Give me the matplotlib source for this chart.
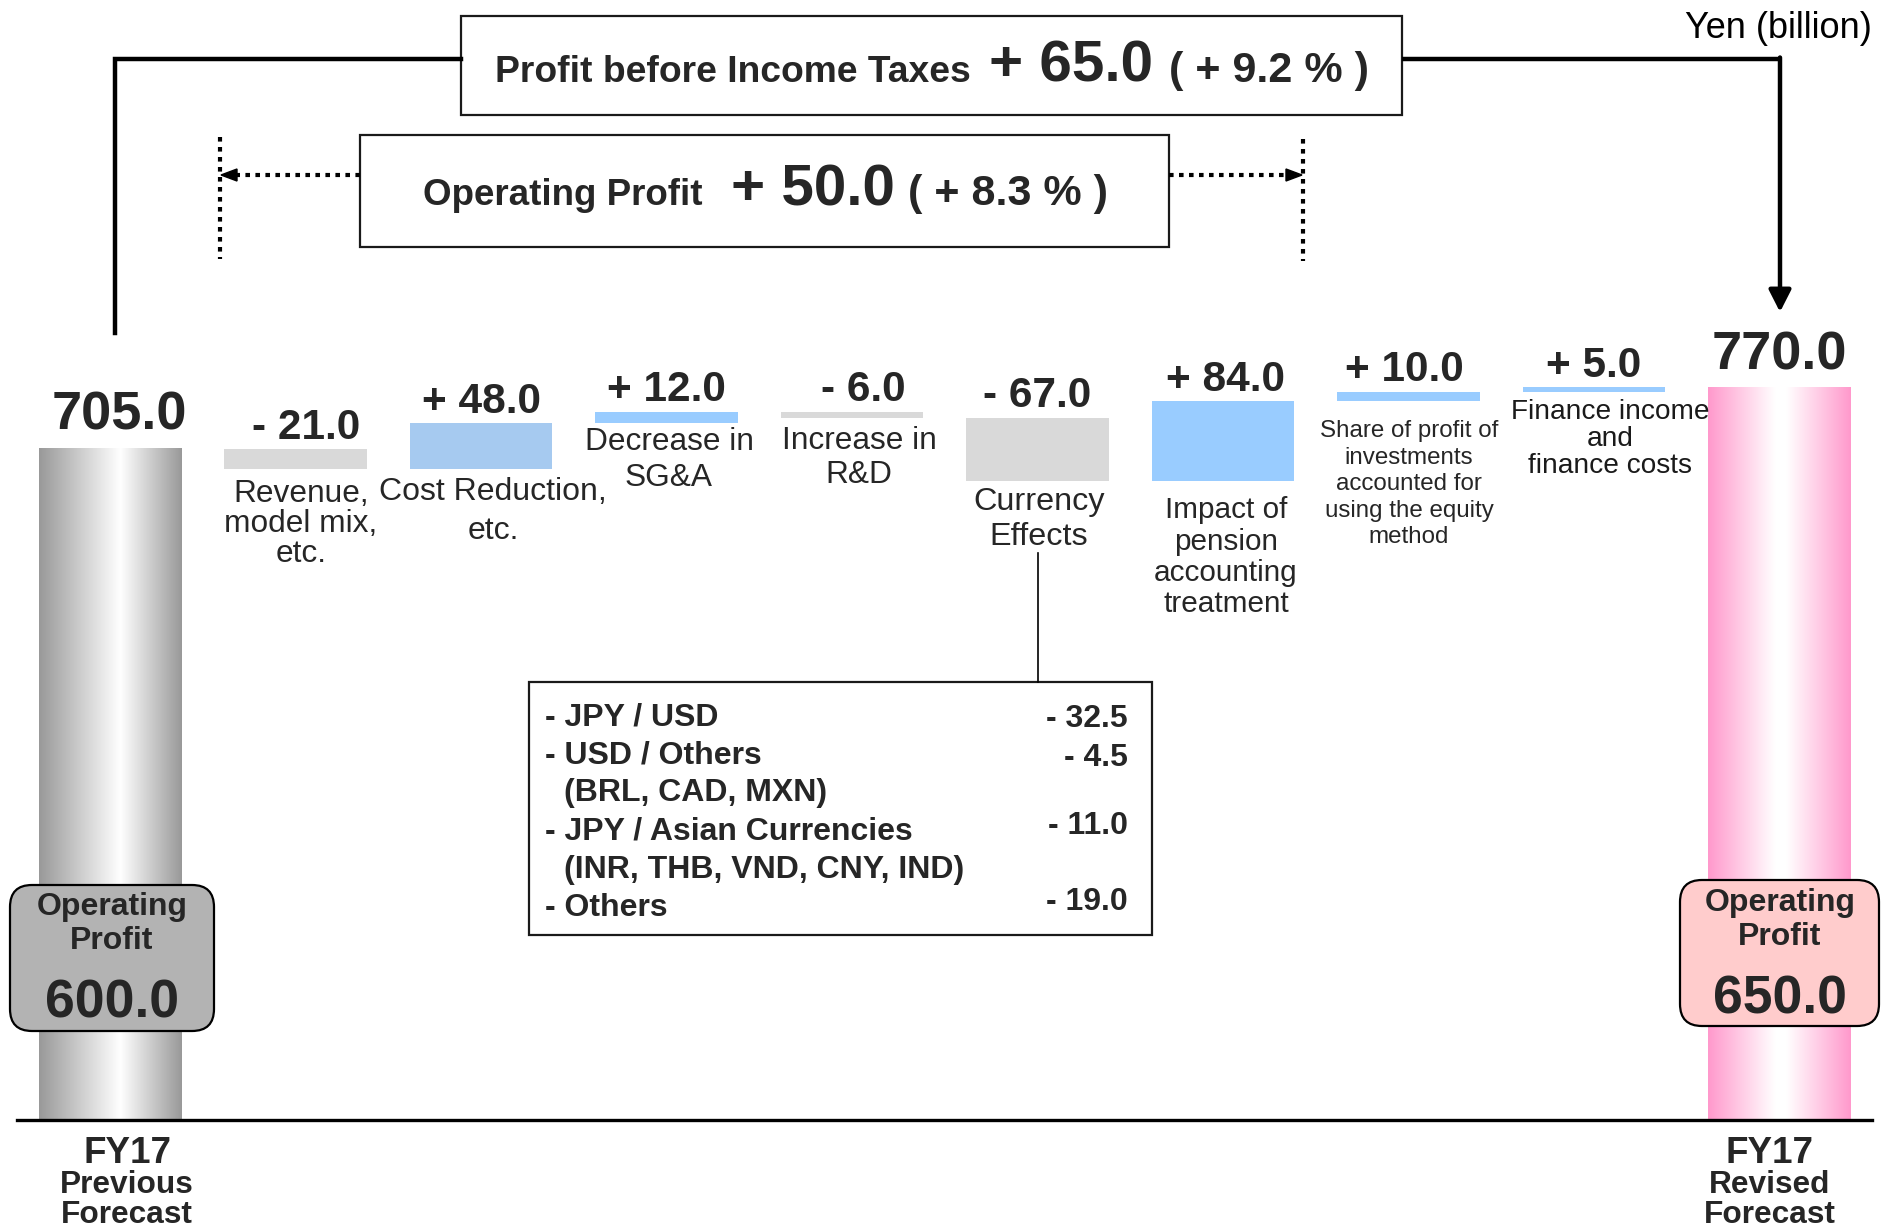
import numpy as np
import matplotlib.pyplot as plt
from matplotlib.colors import LinearSegmentedColormap
from matplotlib.patches import Rectangle, FancyBboxPatch, Polygon, FancyArrowPatch

plt.rcParams['font.family'] = ['Liberation Sans', 'DejaVu Sans']

# ---- data (Yen billion) ----
start_value = 705.0
end_value = 770.0
op_start = 600.0
op_end = 650.0
deltas = [-21.0, 48.0, 12.0, -6.0, -67.0, 84.0, 10.0, 5.0]
categories = ['Revenue,\nmodel mix,\netc.',
              'Cost Reduction,\netc.',
              'Decrease in\nSG&A',
              'Increase in\nR&D',
              'Currency\nEffects',
              'Impact of\npension\naccounting\ntreatment',
              'Share of profit of\ninvestments\naccounted for\nusing the equity\nmethod',
              'Finance income\nand\nfinance costs']
pbt_change, pbt_pct = 65.0, 9.2
op_change, op_pct = 50.0, 8.3
currency_names = ['JPY / USD', 'USD / Others', 'JPY / Asian Currencies', 'Others']
currency_sub = ['', '(BRL, CAD, MXN)', '(INR, THB, VND, CNY, IND)', '']
currency_values = [-32.5, -4.5, -11.0, -19.0]

# ---- styles ----
txt = '#262626'
neg_col = '#D9D9D9'
pos_col = '#99CCFF'
bar_cols = [neg_col, '#A6CAF0', pos_col, neg_col, neg_col, pos_col, pos_col, pos_col]
val_dx = [8, 0, 0, 8, 0, 2, -3, 0]   # small x nudges of the value labels (pt)
# label centre x, first baseline, line spacing, font size (pixels / pt)
lab_x = [301, 493, 669, 859, 1039, 1226, 1409, 1610]
lab_y = [502, 500, 450, 449, 510, 518, 437, 419]
lab_dy = [30, 39, 36, 34, 35, 31.5, 26.5, 27]
lab_fs = [22.8, 23, 22.8, 22.8, 23.3, 21.4, 17.4, 20.2]
box_fs = 23

W, H = 1886, 1229
fig = plt.figure(figsize=(W / 100, H / 100), dpi=100)

# data axes
ax = fig.add_axes([0, 0, 1, 1])
ax.axis('off')

n = len(deltas)
xs = np.arange(n + 2)
bw = 0.77
cum = start_value + np.cumsum(deltas)
prev = np.concatenate([[start_value], cum[:-1]])
bottoms = np.minimum(prev, cum)
ax.bar(xs[1:n + 1], np.abs(deltas), bottom=bottoms, width=bw, color=bar_cols, zorder=2)

grad = np.linspace(0, 1, 256).reshape(1, -1)
gray_cm = LinearSegmentedColormap.from_list('g', [(0, '#999999'), (0.57, '#ffffff'), (1, '#999999')])
pink_cm = LinearSegmentedColormap.from_list('p', [(0, '#ff99cc'), (0.47, '#ffffff'), (0.55, '#ffffff'), (1, '#ff99cc')])
ax.imshow(grad, cmap=gray_cm, aspect='auto', extent=[xs[0] - bw / 2, xs[0] + bw / 2, 0, start_value], zorder=1)
ax.imshow(grad, cmap=pink_cm, aspect='auto', extent=[xs[-1] - bw / 2, xs[-1] + bw / 2, 0, end_value], zorder=1)

k = 0.9518
ax.set_xlim(-110 / 185.5, (W - 110) / 185.5)
ax.set_ylim(-(H - 1120) / k, 1120 / k)
ax.axhline(0, xmin=17 / W, xmax=1872 / W, color='black', lw=2.4, zorder=3)

# value labels
for x, d, top, dx in zip(xs[1:n + 1], deltas, np.maximum(prev, cum), val_dx):
    s = ('+ ' if d > 0 else '- ') + f'{abs(d):.1f}'
    ax.annotate(s, (x, top), xytext=(dx, 7.5), textcoords='offset points', ha='center',
                va='baseline', fontsize=30.5, fontweight='bold', color=txt)
ax.annotate(f'{start_value:.1f}', (xs[0], start_value), xytext=(7, 14), textcoords='offset points',
            ha='center', va='baseline', fontsize=39, fontweight='bold', color=txt)
ax.annotate(f'{end_value:.1f}', (xs[-1], end_value), xytext=(0, 12.5), textcoords='offset points',
            ha='center', va='baseline', fontsize=39, fontweight='bold', color=txt)

# overlay in pixel coords for the annotations
ov = fig.add_axes([0, 0, 1, 1], facecolor='none')
ov.set_xlim(0, W)
ov.set_ylim(H, 0)
ov.axis('off')

for i, lab in enumerate(categories):
    for j, line in enumerate(lab.split('\n')):
        ov.text(lab_x[i], lab_y[i] + j * lab_dy[i], line, ha='center', va='baseline',
                fontsize=lab_fs[i], color='#1a1a1a' if i == n - 1 else txt, zorder=5)

ov.text(1872, 38, 'Yen (billion)', ha='right', va='baseline', fontsize=26, color='black')

# Profit before income taxes box
ov.add_patch(Rectangle((461, 16), 941, 99, fc='white', ec='#1a1a1a', lw=1.6))
ov.text(495, 82, 'Profit before Income Taxes', fontsize=26.8, fontweight='bold', color=txt, va='baseline')
ov.text(989, 82, f'+ {pbt_change:.1f}', fontsize=42, fontweight='bold', color=txt, va='baseline')
ov.text(1169, 82, f'( + {pbt_pct:.1f} % )', fontsize=31, fontweight='bold', color=txt, va='baseline')
ov.plot([115, 115, 461], [333, 59, 59], color='black', lw=3.2, solid_joinstyle='miter')
ov.plot([1402, 1780], [59, 59], color='black', lw=3.2, solid_capstyle='butt')
ov.add_patch(FancyArrowPatch((1780, 57.5), (1780, 312), arrowstyle='-|>,head_length=0.55,head_width=0.28',
                             mutation_scale=24, color='black', lw=3.2, shrinkA=0, shrinkB=0))

# Operating profit box
ov.add_patch(Rectangle((360, 135), 809, 112, fc='white', ec='#1a1a1a', lw=1.6))
ov.text(423, 205, 'Operating Profit', fontsize=26.5, fontweight='bold', color=txt, va='baseline')
ov.text(731, 205, f'+ {op_change:.1f}', fontsize=42, fontweight='bold', color=txt, va='baseline')
ov.text(908, 205, f'( + {op_pct:.1f} % )', fontsize=31, fontweight='bold', color=txt, va='baseline')
dots = dict(color='black', lw=3, linestyle=(0, (1.1, 1.3)), solid_capstyle='butt')
ov.plot([220, 220], [137, 259], **dots)
ov.plot([1303, 1303], [139, 261], **dots)
ov.plot([360, 234], [175, 175], **dots)
ov.plot([1169, 1290], [175, 175], **dots)
ov.add_patch(Polygon([[221, 175], [237, 169], [237, 181]], color='black'))
ov.add_patch(Polygon([[1302, 175], [1286, 169], [1286, 181]], color='black'))

# currency breakdown
ov.plot([1038, 1038], [553, 682], color='black', lw=1.2)
ov.add_patch(Rectangle((529, 682), 623, 253, fc='white', ec='#1a1a1a', lw=1.6))
row = 0
for name, sub, val in zip(currency_names, currency_sub, currency_values):
    yb = 725 + row * 38.2
    ov.text(545, yb, '- ' + name, fontsize=box_fs, fontweight='bold', color=txt, va='baseline')
    ov.text(1128, yb + (2 if row == 0 else 3 if row == 1 else -6), f'- {abs(val):.1f}', fontsize=box_fs,
            fontweight='bold', color=txt, va='baseline', ha='right')
    row += 1
    if sub:
        ov.text(564, 725 + row * 38.2, sub, fontsize=box_fs, fontweight='bold', color=txt, va='baseline')
        row += 1

# operating profit tags on the total bars
ov.add_patch(FancyBboxPatch((10, 885), 204, 146, boxstyle='round,pad=0,rounding_size=22',
                            fc='#B3B3B3', ec='black', lw=1.6, zorder=4))
ov.add_patch(FancyBboxPatch((1680, 880), 199, 146, boxstyle='round,pad=0,rounding_size=22',
                            fc='#FFCCCC', ec='black', lw=1.6, zorder=4))
for cx, yb, v in [(112, 915, op_start), (1780, 911, op_end)]:
    ov.text(cx, yb, 'Operating', ha='center', va='baseline', fontsize=23, fontweight='bold', color=txt, zorder=5)
    ov.text(cx, yb + 34, 'Profit', ha='center', va='baseline', fontsize=23, fontweight='bold', color=txt, zorder=5)
    ov.text(cx, yb + 102, f'{v:.1f}', ha='center', va='baseline', fontsize=38.5, fontweight='bold', color=txt, zorder=5)

# period labels
for cx, lines in [(127, ['FY17', 'Previous', 'Forecast']), (1770, ['FY17', 'Revised', 'Forecast'])]:
    ov.text(cx, 1163, lines[0], ha='center', va='baseline', fontsize=26.5, fontweight='bold', color=txt)
    ov.text(cx, 1193, lines[1], ha='center', va='baseline', fontsize=22.8, fontweight='bold', color=txt)
    ov.text(cx, 1223, lines[2], ha='center', va='baseline', fontsize=22.8, fontweight='bold', color=txt)

fig.savefig('out.png', dpi=100)
